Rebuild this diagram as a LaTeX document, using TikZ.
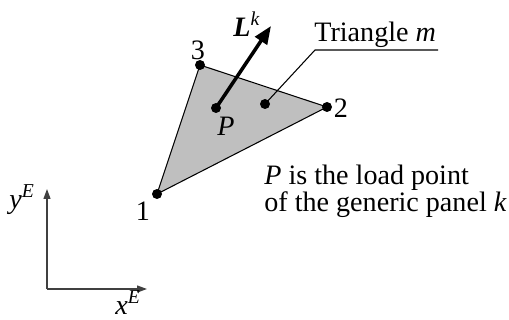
\documentclass[tikz,border=0pt]{standalone}
\usepackage{fontspec}
\setmainfont{Liberation Serif}
\usepackage{tikz}
\usetikzlibrary{positioning,arrows.meta,calc}

\tikzset{
  vertex/.style={circle,fill=black,inner sep=0pt,minimum size=0.2cm},
  lbl/.style={inner sep=0pt,font=\fontsize{16}{15.4}\selectfont},
  axis/.style={draw=black!75,line width=0.7pt,-{Triangle[length=0.2cm,width=0.14cm]}},
}

\begin{document}
\begin{tikzpicture}[x=0.02cm,y=-0.02cm]
  \useasboundingbox (0,0) rectangle (509,320);

  % panel triangle m
  \coordinate (v1) at (157,194);
  \coordinate (v2) at (327,107);
  \coordinate (v3) at (200,65);
  \filldraw[fill=black!25,draw=black,line width=0.6pt] (v1) -- (v2) -- (v3) -- cycle;
  \node[vertex] (n1) at (v1) {};
  \node[vertex] (n2) at (v2) {};
  \node[vertex] (n3) at (v3) {};
  \node[lbl] at (143,211) {1};
  \node[lbl] at (341,108) {2};
  \node[lbl] at (198,50) {3};

  % load point and load
  \node[vertex] (lp) at (216,108) {};
  \node[lbl] at (226,126) {\textit{P}};
  \coordinate (ltip) at (271,26);
  \draw[line width=2pt,-{Triangle[length=0.36cm,width=0.28cm]}] (lp.center) -- (ltip);
  \node[lbl] at (247,24) {\textbf{\textit{L}}\textsuperscript{\textit{k}}};

  % leader to the name
  \node[vertex] (cm) at (265,104) {};
  \coordinate (bend) at (315,50);
  \coordinate (uend) at (438,50);
  \draw[line width=0.6pt] (cm.center) -- (bend) -- (uend);
  \node[lbl,anchor=base west] (tri) at (314,42) {Triangle \textit{m}};

  \node[lbl,anchor=base west,align=left] (note) at (264,212)
    {\textit{P} is the load point\\of the generic panel \textit{k}};

  % global axes
  \coordinate (o) at (47,289);
  \coordinate (xe) at (147,289);
  \coordinate (ye) at (47,189);
  \draw[axis] (o) -- (xe);
  \draw[axis] (o) -- (ye);
  \node[lbl] at (128,303) {\textit{x}\textsuperscript{\textit{E}}};
  \node[lbl] at (22,200) {\textit{y}\textsuperscript{\textit{E}}};
\end{tikzpicture}
\end{document}
